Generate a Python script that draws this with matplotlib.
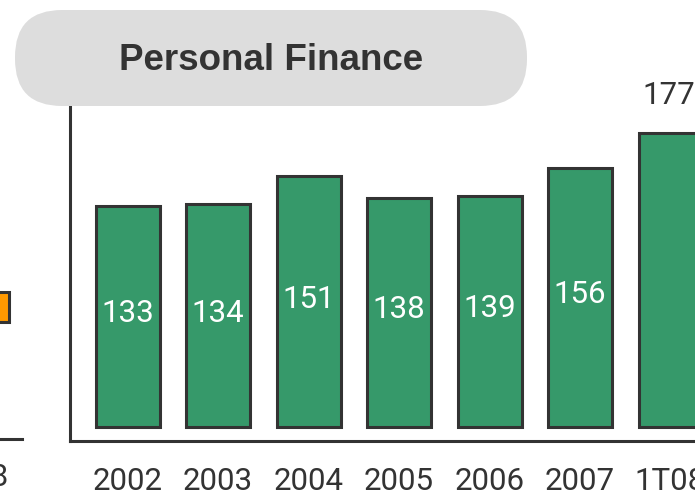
import matplotlib
matplotlib.use("Agg")
import matplotlib.pyplot as plt
from matplotlib.patches import FancyBboxPatch

categories = ["2002", "2003", "2004", "2005", "2006", "2007", "1T08"]
values = [133, 134, 151, 138, 139, 156, 177]
title = "Personal Finance"
# partial neighbouring panel (cropped on the left): one orange segment
left_bottom = [63]
left_height = [18]
left_label = ["1T08"]

W, H = 695, 496
fig = plt.figure(figsize=(W / 100, H / 100), dpi=100)

num_font = ["Roboto", "DejaVu Sans"]
fs = 22.5
green = "#36996a"
dark = "#333333"

# main axes: x from 70px to right edge, bottom axis line at y=441px
ax_left = 70 / W
ax_bottom = (H - 441) / H
ax_top = (H - 100) / H
ax = fig.add_axes([ax_left, ax_bottom, 1 - ax_left, ax_top - ax_bottom])
px_per_unit = 1.662
pitch = 90.5
x = list(range(len(categories)))
ax.set_xlim((70 - 127.5) / pitch, (695 - 127.5) / pitch)
ax.set_ylim(-14 / px_per_unit, (427 - 100) / px_per_unit)

ax.bar(x, values, width=64 / pitch, color=green, edgecolor=dark, linewidth=2.2, zorder=3)
for i, v in enumerate(values):
    if i == len(values) - 1:
        ax.text(i - 0.02, v + 22.5, str(v), ha="center", va="center", color=dark,
                fontsize=fs, family=num_font, clip_on=False)
    else:
        ax.text(i, v / 2 + 1.5, str(v), ha="center", va="center", color="white",
                fontsize=fs, family=num_font, zorder=4)

for s in ["top", "right"]:
    ax.spines[s].set_visible(False)
for s in ["left", "bottom"]:
    ax.spines[s].set_color(dark)
    ax.spines[s].set_linewidth(2.2)
ax.set_yticks([])
ax.set_xticks(x)
ax.set_xticklabels(categories, fontsize=fs, color=dark, family=num_font)
ax.tick_params(axis="x", length=0, pad=19)

# left cropped panel
ax2 = fig.add_axes([-120 / W, ax_bottom + 2 / H, 142 / W, ax_top - ax_bottom])
ax2.set_xlim(-1.1, 0.5)
ax2.set_ylim(-14 / px_per_unit + 1.2, (427 - 100) / px_per_unit + 1.2)
ax2.bar([0], left_height, bottom=left_bottom, width=0.7, color="#ff9900",
        edgecolor=dark, linewidth=2.2)
ax2.set_xticks([-0.05])
ax2.set_xticklabels(left_label, fontsize=fs, color=dark, family=num_font)
ax2.tick_params(axis="x", length=0, pad=17)
ax2.set_yticks([])
for s in ["top", "right", "left"]:
    ax2.spines[s].set_visible(False)
ax2.spines["bottom"].set_color(dark)
ax2.spines["bottom"].set_linewidth(2.2)
ax2.patch.set_alpha(0)

# title pill
bx0, by0, bx1, by1 = 15, 10, 527, 106
r = 47
pill = FancyBboxPatch(((bx0 + r) / W, (H - by1 + r) / H),
                      (bx1 - bx0 - 2 * r) / W, (by1 - by0 - 2 * r) / H,
                      boxstyle=f"round,pad={r / W}", transform=fig.transFigure,
                      facecolor="#dddddd", edgecolor="none", zorder=10,
                      mutation_aspect=W / H)
fig.add_artist(pill)
fig.text(271 / W, (H - 60) / H, title, ha="center", va="center", fontsize=26.5,
         fontweight="bold", color=dark, family=["Liberation Sans", "DejaVu Sans"],
         zorder=11)

fig.savefig("out.png", dpi=100)
